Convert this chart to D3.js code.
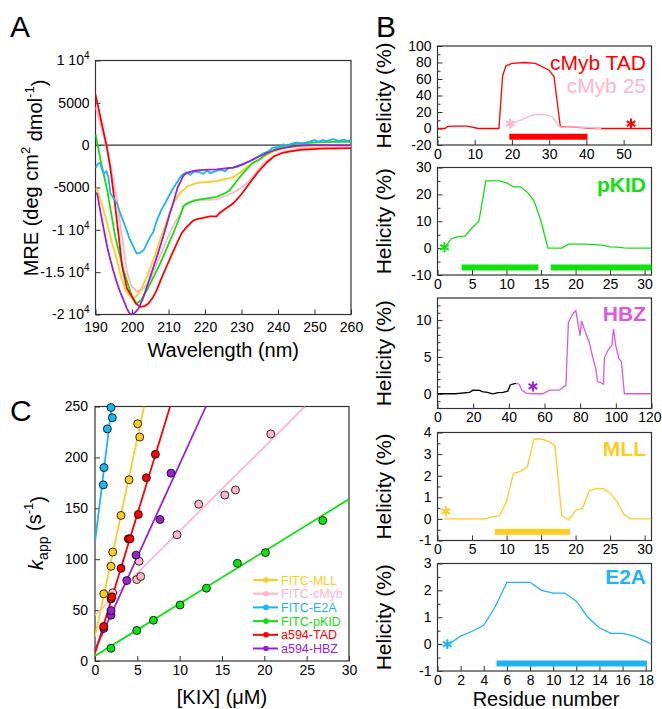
<!DOCTYPE html>
<html>
<head>
<meta charset="utf-8">
<script src="https://cdn.jsdelivr.net/npm/d3@7"></script>
<style>
  body { margin: 0; background: #fff; }
  svg { font-family: "Liberation Sans", Arial, sans-serif; }
  .axis line { stroke: #333; }
  .axis text { font-size: 14px; fill: #000; }
  .frame { fill: none; stroke: #333; stroke-width: 1.2; }
</style>
</head>
<body>
<div id="fig"></div>
<script>
// ---------- panel A: CD spectra [wavelength nm, MRE] ----------
const cdTAD = [[190,6000],[191.5,3000],[193,0],[194,-2500],[195.2,-6500],[196.3,-10500],[197.3,-14300],[198.6,-16900],[200,-17900],[201,-18700],[202.3,-19100],[203.5,-19000],[204.5,-18700],[205.7,-18000],[206.8,-17100],[208,-15800],[209.5,-14300],[211,-12800],[212.3,-11600],[213.6,-10400],[215,-9650],[216.8,-8900],[218,-8700],[219.5,-8600],[221.3,-8400],[223.2,-8400],[224,-8000],[226,-7400],[227.7,-6900],[230,-5800],[232.2,-4500],[234.5,-3200],[236.8,-2100],[239,-1300],[241.3,-900],[243.1,-750],[246,-550],[248.6,-500],[252,-420],[256.8,-380],[260,-350]];
const cdMyb = [[190,4500],[192,1500],[193.5,-1000],[195.9,-6500],[197.5,-11500],[198.6,-15000],[199.8,-16600],[201.3,-17300],[202.5,-17100],[204,-16500],[205,-15900],[207,-13800],[209.5,-11200],[211.3,-9500],[213.5,-7900],[214.5,-7100],[216.8,-6500],[218.6,-6450],[221,-6450],[223.2,-6400],[225.5,-6000],[227.7,-5600],[230,-5000],[232.2,-4200],[234,-3200],[235.9,-2200],[238.5,-1300],[241.3,-800],[243.1,-650],[245.5,-450],[248.6,-350],[252,-250],[256.8,-200],[260,-150]];
const cdKID = [[190,1300],[191.4,-1800],[193.2,-5300],[195.4,-10800],[197.7,-14800],[200,-17900],[201.3,-18700],[202.5,-18300],[204.1,-17100],[206,-15500],[207.7,-14000],[209.5,-12200],[211.3,-10400],[213,-8600],[214.1,-7200],[215,-6900],[216.8,-6600],[218.6,-6400],[221,-6250],[223.2,-6100],[225.9,-5600],[226.8,-5300],[228.6,-4300],[230.4,-3300],[233.1,-2100],[234.9,-1700],[237,-1000],[239.5,-400],[241.5,-100],[243.1,50],[246,200],[248.6,280],[252,350],[256.8,400],[260,400]];
const cdE2A = [[190,-2700],[190.6,-2200],[191.3,-2100],[191.8,-2900],[192.3,-3400],[193,-3100],[193.5,-3700],[194.1,-5700],[195.9,-6900],[197,-8300],[198.2,-9650],[199.3,-11000],[200.4,-12000],[201.3,-12800],[202.2,-12700],[203.2,-12400],[204,-11700],[205,-10800],[205.8,-10300],[206.8,-8900],[208,-7700],[209.5,-6500],[211,-5300],[212.3,-4400],[213.2,-3800],[214.1,-3400],[215,-3200],[216,-3500],[217,-3100],[218.6,-3200],[219.5,-3400],[220.5,-3000],[221.5,-3300],[223.2,-3000],[224.5,-2900],[225.5,-3100],[226.5,-2700],[228.6,-2600],[230.4,-2300],[232.2,-1900],[234,-1500],[235.9,-1000],[237.5,-700],[238.5,-300],[240.4,-200],[241.5,100],[242.5,-100],[244,200],[245,300],[246.5,200],[248.6,400],[250,600],[251,400],[252.2,600],[253.5,500],[255,700],[256.8,500],[258,650],[259,500],[260,600]];
const cdMLL = [[190,-5100],[190.5,-5300],[191.8,-7000],[193.2,-9250],[194.5,-11500],[195.9,-13600],[197,-15600],[198.2,-17100],[199.2,-17700],[200.4,-18100],[201.3,-17800],[202.5,-17000],[204.1,-15500],[206,-13400],[207.7,-11200],[209.5,-9000],[211.3,-6900],[213,-5700],[214.1,-5300],[215,-4900],[216.8,-4600],[218.6,-4400],[221,-4350],[223.2,-4250],[225.5,-4000],[227.7,-3800],[229.5,-3300],[231.3,-2600],[233.5,-2000],[235.9,-1400],[238.5,-800],[241.3,-400],[243.1,-300],[246,-150],[248.6,-100],[252,-50],[256.8,0],[260,0]];
const cdHBZ = [[190,-5600],[190.5,-5800],[191.4,-8000],[192.3,-10000],[193.2,-12000],[194.1,-13600],[195,-15000],[195.9,-16300],[196.8,-17400],[197.7,-18300],[198.6,-19300],[199.5,-20000],[200.5,-19900],[201.8,-19300],[203,-18100],[204.1,-16700],[205.5,-14900],[206.8,-13200],[208.2,-11300],[209.5,-9400],[210.4,-8000],[211.3,-6800],[212.5,-5000],[214.1,-3600],[215,-3300],[216.8,-3050],[218.6,-2950],[221,-2900],[223.2,-2850],[225.5,-2750],[227.7,-2650],[230,-2300],[232.2,-1900],[234.5,-1400],[236.8,-950],[239,-600],[241.3,-350],[244,-150],[246,-50],[248.6,0],[252,0],[256.8,0],[260,0]];
const aXTicks = [190,200,210,220,230,240,250,260];
const aYTicks = [-20000,-15000,-10000,-5000,0,5000,10000];

// ---------- panel C: kobs vs [KIX] ----------
const kMLL  = [[1.03,66],[1.89,93],[2.09,107],[3.07,143],[4.02,178],[5.04,233],[5.28,220]];
const kMyb  = [[2.09,67],[4.93,80],[5.4,83],[5.2,98],[9.69,124],[12.25,154],[15.33,163],[16.59,168],[20.76,223]];
const kE2A  = [[0.98,173],[1.06,190],[1.46,228],[2.05,239],[1.89,249]];
const kKID  = [[1.89,12.5],[4.93,30],[6.9,40],[10.05,55],[13.16,71.5],[16.82,96],[20.13,106.5],[26.9,138]];
const kTAD  = [[1.03,34],[1.89,61],[2.0,63],[3.07,91],[3.94,120],[4.14,120],[5.12,144],[6.07,180],[7.13,203]];
const kHBZ  = [[1.03,32],[1.89,45],[1.89,49.5],[3.75,79],[4.85,104],[7.68,139],[8.98,184.5]];
// fitted lines, as end points
const fitMLL = [[0,24],[5.8,250]];
const fitMyb = [[0,45],[24.8,250]];
const fitE2A = [[0,117],[1.97,250]];
const fitKID = [[0,5],[30,159]];
const fitTAD = [[0,7.5],[8.87,250]];
const fitHBZ = [[0,11],[13.1,250]];
const cXTicks = [0,5,10,15,20,25,30];
const cYTicks = [0,50,100,150,200,250];
const legendNames = ["FITC-MLL","FITC-cMyb","FITC-E2A","FITC-pKID","a594-TAD","a594-HBZ"];

// ---------- panel B: helicity per residue ----------
const helTAD = [[0,0],[2,0],[2.8,2.5],[5,3],[8,3],[11,0],[16.5,0],[17.5,64],[18.4,76],[20,79],[23.5,80],[26.3,79],[29.9,71],[31.3,63],[33,2.5],[35.3,2],[38.8,1],[42.4,0],[57.5,0]];
const hel25  = [[19.5,0],[20.6,7],[23.3,12],[26,17],[28.7,17],[31,14],[32.3,4],[33.3,1.5],[35,2],[39.5,1.5],[44,0]];
const helKID = [[1,0],[2,3.5],[3,4.3],[4,4.5],[5,7.5],[6,10],[7,25],[8,25],[9,25],[10,24.3],[11,22.8],[12,22.8],[13,20.8],[14,17.5],[15,10],[16,0],[17,0],[18,0],[19,1.5],[20,1.5],[21,1.5],[22,1.4],[23,1.3],[24,1],[25,0.5],[26,0.4],[27,0.1],[28,0],[29,0],[30,0],[31,0]];
const helHBZa = [[0,0],[10,0],[18,0.2],[19.9,0.5],[23.6,0.45],[25,0.3],[28,0.2],[31,0],[34,0.15],[36.7,0.2],[39.4,0.35],[40.8,1.2],[42.2,1.3],[44,1.4]];
const helHBZb = [[44,1.4],[45.8,1.3],[47.3,0.5],[49.7,0.1],[53.4,0],[59,0],[62.8,0.5],[68.3,0.5],[69.8,0.7],[70.7,1.0],[72,1.1],[73.4,9.7],[75.8,10.8],[77.6,11.3],[79.9,7.9],[80.8,9.9],[82.3,8.8],[85.1,7],[86.6,5.4],[88.8,3.3],[89.7,1.7],[91.6,1.5],[93.1,1.3],[93.6,4.9],[95.8,6.0],[97.8,6.6],[98.7,8.8],[100,6.5],[101.8,4.7],[103.1,4.4],[104.8,0],[120,0]];
const helMLL = [[1,0],[2,0],[3,0],[4,0],[5,0],[6,0],[7,0],[8,0.1],[9,0.15],[10,0.8],[11,2.1],[12,2.2],[13,2.4],[14,3.7],[15,3.7],[16,3.6],[17,3.4],[18,0.15],[19,-0.05],[20,0.4],[21,0.5],[22,1.3],[23,1.4],[24,1.4],[25,1.2],[26,0.8],[27,0.2],[28,0],[29,0],[30,0],[31,0]];
const helE2A = [[1,0],[2,0.3],[3,0.48],[4,0.7],[5,1.4],[6,2.3],[7,2.3],[8,2.3],[9,2.0],[10,1.9],[11,1.9],[12,1.6],[13,1.0],[14,0.6],[15,0.4],[16,0.4],[17,0.3],[18,0.1],[19,-0.1]];
// binding-region bars [from, to, level] and fluorophore stars [residue, level]
const barTAD = [[19.3,40.3,-10]];
const barKID = [[3.5,14.6,-7.2],[16.4,31,-7.2]];
const barMLL = [[8.3,19.2,-0.6]];
const barE2A = [[5.1,18.1,-0.72]];
const starTAD = [[52,6]];
const star25  = [[19.5,6]];
const starKID = [[1,0.3]];
const starHBZ = [[53.5,1]];
const starMLL = [[1.2,0.35]];
const starE2A = [[0.85,0]];

const C = { red:"#ff0000", pink:"#ffb5c9", green:"#11e011", cyan:"#1db4ef", gold:"#ffcc22", purple:"#9a22d2", magenta:"#dc5adc" };

const svg = d3.select("#fig").append("svg").attr("width", 662).attr("height", 709);
const line = d3.line().x(d => d[0]).y(d => d[1]);
let clipN = 0;

function addClip(x, y) {
  const id = "clip" + (clipN++);
  svg.append("clipPath").attr("id", id).append("rect")
    .attr("x", x.range()[0]).attr("y", y.range()[1])
    .attr("width", x.range()[1] - x.range()[0]).attr("height", y.range()[0] - y.range()[1]);
  return `url(#${id})`;
}

function axes(x, y, o) {
  const gx = svg.append("g").attr("class", "axis").attr("transform", `translate(0,${y.range()[0]})`)
    .call(d3.axisBottom(x).tickValues(o.xt).tickSizeInner(-o.tk).tickSizeOuter(0).tickPadding(o.xp).tickFormat(d => String(d)));
  gx.select(".domain").remove();
  // keep the last label inside the page
  gx.selectAll(".tick text").filter(d => x(d) + 12 > 662).attr("text-anchor", "end").attr("x", 662 - 1 - 651.5 + 0);
  const gy = svg.append("g").attr("class", "axis").attr("transform", `translate(${x.range()[0]},0)`)
    .call(d3.axisLeft(y).tickValues(o.yt).tickSizeInner(-o.tk).tickSizeOuter(0).tickPadding(o.yp).tickFormat(d => String(d)));
  gy.select(".domain").remove();
  if (o.ym) {
    const gm = svg.append("g").attr("class", "axis").attr("transform", `translate(${x.range()[0]},0)`)
      .call(d3.axisLeft(y).tickValues(o.ym).tickSizeInner(-3).tickSizeOuter(0).tickFormat(""));
    gm.select(".domain").remove();
  }
  svg.append("rect").attr("class", "frame")
    .attr("x", x.range()[0]).attr("y", y.range()[1])
    .attr("width", x.range()[1] - x.range()[0]).attr("height", y.range()[0] - y.range()[1]);
  return gy;
}

function rotLabel(x, y, parts) {
  const t = svg.append("text").attr("transform", `translate(${x},${y}) rotate(-90)`)
    .attr("text-anchor", "middle").attr("font-size", 20);
  parts.forEach(p => {
    const s = t.append("tspan").text(p.t);
    if (p.dy) s.attr("dy", p.dy);
    if (p.fs) s.attr("font-size", p.fs);
    if (p.it) s.attr("font-style", "italic");
  });
  return t;
}

function panelLetter(x, y, s) {
  svg.append("text").attr("x", x).attr("y", y).attr("font-size", 30).text(s);
}

// =============== Panel A ===============
{
  const x = d3.scaleLinear().domain([190, 260]).range([95.5, 351]);
  const y = d3.scaleLinear().domain([-20000, 10000]).range([314.5, 60.5]);
  const gy = axes(x, y, { xt: aXTicks, yt: aYTicks, tk: 5, xp: 8, yp: 6 });
  gy.selectAll(".tick text").each(function (d) {
    if (Math.abs(d) >= 10000) {
      const t = d3.select(this).text("");
      t.append("tspan").text(`${d / 10000} 10`);
      t.append("tspan").attr("dy", "-0.6em").attr("font-size", "10px").text("4");
    }
  });
  svg.append("line").attr("x1", x.range()[0]).attr("x2", x.range()[1])
    .attr("y1", y(0)).attr("y2", y(0)).attr("stroke", "#333").attr("stroke-width", 1.2);
  const clip = addClip(x, y);
  const series = [[cdMyb, C.pink], [cdMLL, C.gold], [cdKID, C.green], [cdTAD, C.red], [cdE2A, C.cyan], [cdHBZ, C.purple]];
  series.forEach(([data, c]) => {
    svg.append("path").attr("clip-path", clip)
      .attr("d", line(data.map(d => [x(d[0]), y(d[1])])))
      .attr("fill", "none").attr("stroke", c).attr("stroke-width", 1.8);
  });
  svg.append("text").attr("x", (x.range()[0] + x.range()[1]) / 2).attr("y", 357)
    .attr("text-anchor", "middle").attr("font-size", 20).text("Wavelength (nm)");
  rotLabel(38, 178, [{ t: "MRE (deg cm" }, { t: "2", dy: "-0.6em", fs: 13 }, { t: " dmol", dy: "0.6em" }, { t: "-1", dy: "-0.6em", fs: 13 }, { t: ")", dy: "0.6em" }]);
  panelLetter(10, 37, "A");
}

// =============== Panel C ===============
{
  const x = d3.scaleLinear().domain([0, 30]).range([95, 349]);
  const y = d3.scaleLinear().domain([0, 250]).range([661, 406.5]);
  axes(x, y, { xt: cXTicks, yt: cYTicks, tk: 5, xp: 4, yp: 7 });
  const clip = addClip(x, y);
  const sets = [
    [kMyb, fitMyb, C.pink], [kKID, fitKID, C.green], [kHBZ, fitHBZ, C.purple],
    [kTAD, fitTAD, C.red], [kMLL, fitMLL, C.gold], [kE2A, fitE2A, C.cyan]
  ];
  sets.forEach(([pts, fit, c]) => {
    svg.append("path").attr("clip-path", clip)
      .attr("d", line(fit.map(d => [x(d[0]), y(d[1])])))
      .attr("fill", "none").attr("stroke", c).attr("stroke-width", 1.8);
  });
  sets.forEach(([pts, fit, c]) => {
    svg.append("g").selectAll("circle").data(pts).enter().append("circle")
      .attr("cx", d => x(d[0])).attr("cy", d => y(d[1])).attr("r", 4)
      .attr("fill", c).attr("stroke", "#000").attr("stroke-width", 0.8);
  });
  // legend
  const legCols = [C.gold, C.pink, C.cyan, C.green, C.red, C.purple];
  const leg = svg.append("g").attr("transform", "translate(253,580)");
  legendNames.forEach((n, i) => {
    const r = leg.append("g").attr("transform", `translate(0,${i * 13.7})`);
    r.append("line").attr("x1", 0).attr("x2", 25).attr("stroke", legCols[i]).attr("stroke-width", 2);
    r.append("circle").attr("cx", 13).attr("r", 2.8).attr("fill", legCols[i]);
    r.append("text").attr("x", 28).attr("dy", "0.36em").attr("font-size", 12.5).attr("fill", legCols[i]).text(n);
  });
  svg.append("text").attr("x", (x.range()[0] + x.range()[1]) / 2).attr("y", 704)
    .attr("text-anchor", "middle").attr("font-size", 20).text("[KIX] (\u03bcM)");
  rotLabel(43, 533, [{ t: "k", it: true }, { t: "app", dy: "0.35em", fs: 14 }, { t: " (s", dy: "-0.35em" }, { t: "-1", dy: "-0.6em", fs: 13 }, { t: ")", dy: "0.6em" }]);
  panelLetter(10, 421, "C");
}

// =============== Panel B ===============
const subs = [
  { top: 46, bot: 145, yd: [-20, 100], yt: [-20, 0, 20, 40, 60, 80, 100], ym: [-10, 10, 30, 50, 70, 90], xd: [0, 57.5], xt: [0, 10, 20, 30, 40, 50],
    lines: [[helTAD, C.red], [hel25, C.pink]], bars: [[barTAD, C.red]], stars: [[starTAD, C.red], [star25, C.pink]],
    labels: [["cMyb TAD", C.red, 24, "normal"], ["cMyb 25", C.pink, 47, "normal"]] },
  { top: 167.5, bot: 275, yd: [-10, 30], yt: [-10, 0, 10, 20, 30], ym: [-5, 5, 15, 25], xd: [0, 31], xt: [0, 5, 10, 15, 20, 25, 30],
    lines: [[helKID, C.green]], bars: [[barKID, C.green]], stars: [[starKID, C.green]],
    labels: [["pKID", C.green, 24, "bold"]] },
  { top: 298, bot: 408.5, yd: [-2, 13], yt: [0, 5, 10], ym: [-1, 1, 2, 3, 4, 6, 7, 8, 9, 11, 12], xd: [0, 120], xt: [0, 20, 40, 60, 80, 100, 120],
    lines: [[helHBZa, "#000"], [helHBZb, C.magenta]], bars: [], stars: [[starHBZ, C.purple]],
    labels: [["HBZ", C.magenta, 23, "bold"]] },
  { top: 432.5, bot: 540.5, yd: [-1, 4], yt: [-1, 0, 1, 2, 3, 4], ym: [-0.5, 0.5, 1.5, 2.5, 3.5], xd: [0, 31], xt: [0, 5, 10, 15, 20, 25, 30],
    lines: [[helMLL, C.gold]], bars: [[barMLL, C.gold]], stars: [[starMLL, C.gold]],
    labels: [["MLL", C.gold, 23, "bold"]] },
  { top: 563.5, bot: 671, yd: [-1, 3], yt: [-1, 0, 1, 2, 3], ym: [-0.5, 0.5, 1.5, 2.5], xd: [0, 18.5], xt: [0, 2, 4, 6, 8, 10, 12, 14, 16, 18],
    lines: [[helE2A, C.cyan]], bars: [[barE2A, C.cyan]], stars: [[starE2A, C.cyan]],
    labels: [["E2A", C.cyan, 20, "bold"]] }
];
const star = d3.symbol().type(d3.symbolAsterisk).size(70);
subs.forEach(s => {
  const x = d3.scaleLinear().domain(s.xd).range([437.5, 651.5]);
  const y = d3.scaleLinear().domain(s.yd).range([s.bot, s.top]);
  axes(x, y, { xt: s.xt, yt: s.yt, ym: s.ym, tk: 5, xp: 4, yp: 6 });
  const clip = addClip(x, y);
  s.lines.forEach(([data, c]) => {
    svg.append("path").attr("clip-path", clip)
      .attr("d", line(data.map(d => [x(d[0]), y(d[1])])))
      .attr("fill", "none").attr("stroke", c).attr("stroke-width", 1.3);
  });
  s.bars.forEach(([bars, c]) => {
    bars.forEach(b => {
      svg.append("rect").attr("x", x(b[0])).attr("width", x(b[1]) - x(b[0]))
        .attr("y", y(b[2]) - 3).attr("height", 6).attr("fill", c);
    });
  });
  s.stars.forEach(([pts, c]) => {
    pts.forEach(p => {
      svg.append("path").attr("d", star).attr("transform", `translate(${x(p[0])},${y(p[1])})`)
        .attr("fill", "none").attr("stroke", c).attr("stroke-width", 2);
    });
  });
  s.labels.forEach(([t, c, dy, w]) => {
    svg.append("text").attr("x", 646).attr("y", s.top + dy).attr("text-anchor", "end")
      .attr("font-size", 21).attr("font-weight", w).attr("fill", c).text(t);
  });
  rotLabel(391, (s.top + s.bot) / 2, [{ t: "Helicity (%)" }]).attr("font-size", 21);
});
svg.append("text").attr("x", 546).attr("y", 706).attr("text-anchor", "middle").attr("font-size", 20).text("Residue number");
panelLetter(376, 37, "B");
</script>
</body>
</html>
